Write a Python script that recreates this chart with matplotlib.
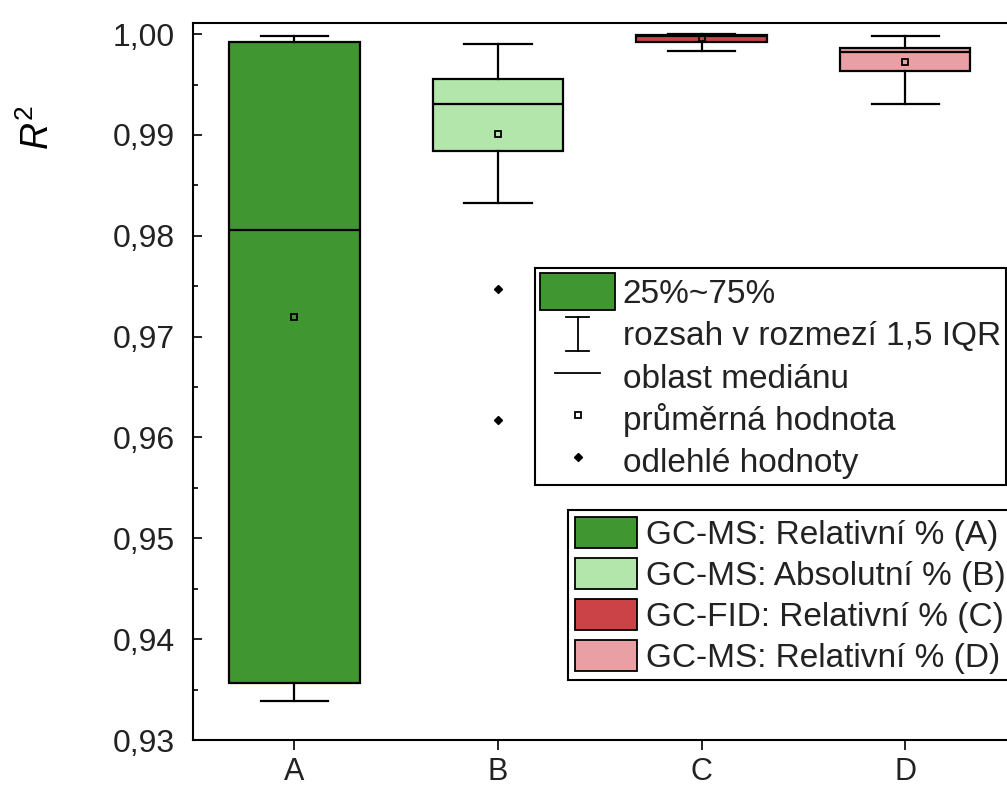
import matplotlib
matplotlib.use("Agg")
import matplotlib.pyplot as plt
from matplotlib.lines import Line2D
from matplotlib.patches import Patch
from matplotlib.legend_handler import HandlerBase, HandlerLine2D
from matplotlib.ticker import MultipleLocator, FuncFormatter

plt.rcParams['font.family'] = ['Liberation Sans', 'DejaVu Sans']
plt.rcParams['mathtext.fontset'] = 'custom'
plt.rcParams['mathtext.it'] = 'Liberation Sans:italic'
plt.rcParams['mathtext.rm'] = 'Liberation Sans'

# R^2 box statistics per method
categories = ['A', 'B', 'C', 'D']
series_labels = ['GC-MS: Relativní % (A)', 'GC-MS: Absolutní % (B)',
                 'GC-FID: Relativní % (C)', 'GC-MS: Relativní % (D)']
whislo = [0.9339, 0.9833, 0.9983, 0.9931]
q1 = [0.9357, 0.9884, 0.9992, 0.9963]
median = [0.9806, 0.9931, 0.9998, 0.9982]
q3 = [0.9992, 0.9955, 0.9999, 0.9986]
whishi = [0.9998, 0.9990, 1.0000, 0.9998]
mean = [0.9719, 0.9901, 0.9996, 0.9972]
outliers = [[], [0.9747, 0.9617], [], []]
colors = ['#409630', '#b3e6aa', '#cc4347', '#e8a0a5']


class WhiskerHandler(HandlerBase):
    # draws the "I" symbol for the whisker range entry
    def create_artists(self, legend, orig_handle, xdescent, ydescent,
                       width, height, fontsize, trans):
        xc = -xdescent + width / 2
        cap = width * 0.155
        y0 = -ydescent + height * 0.05
        y1 = -ydescent + height * 0.95
        lines = [Line2D([xc, xc], [y0, y1]),
                 Line2D([xc - cap, xc + cap], [y0, y0]),
                 Line2D([xc - cap, xc + cap], [y1, y1])]
        for ln in lines:
            ln.set_color('black')
            ln.set_linewidth(1.3)
            ln.set_transform(trans)
        return lines


fig = plt.figure(figsize=(10.07, 7.87), dpi=100)
ax = fig.add_axes([192.7 / 1007, 47 / 787, (1009 - 192.7) / 1007, (740 - 23) / 787])

stats = []
for i in range(len(categories)):
    stats.append(dict(whislo=whislo[i], q1=q1[i], med=median[i], q3=q3[i],
                      whishi=whishi[i], mean=mean[i], fliers=outliers[i]))

lw = 1.6
bp = ax.bxp(stats, positions=[1, 2, 3, 4], widths=0.64, capwidths=0.33,
            showmeans=True, patch_artist=True,
            boxprops=dict(edgecolor='black', linewidth=lw),
            whiskerprops=dict(color='black', linewidth=lw),
            capprops=dict(color='black', linewidth=lw),
            medianprops=dict(color='black', linewidth=lw),
            meanprops=dict(marker='s', markerfacecolor='none', markeredgecolor='black',
                           markersize=5, markeredgewidth=1.3),
            flierprops=dict(marker='D', markerfacecolor='black', markeredgecolor='black',
                            markersize=4))
for box, c in zip(bp['boxes'], colors):
    box.set_facecolor(c)

ax.set_xlim(0.5, 4.51)
ax.set_ylim(0.93, 1.0011)
ax.set_xticks([1, 2, 3, 4], categories)
ax.yaxis.set_major_locator(MultipleLocator(0.01))
ax.yaxis.set_minor_locator(MultipleLocator(0.005))
ax.yaxis.set_major_formatter(FuncFormatter(lambda v, p: f"{v:.2f}".replace('.', ',')))
ax.tick_params(axis='y', which='major', direction='in', length=6.5, width=1.2,
               labelsize=23, pad=13)
ax.tick_params(axis='y', which='minor', direction='in', length=3.5, width=1.2)
ax.tick_params(axis='x', which='major', direction='out', length=7, width=1.2,
               labelsize=22, pad=5)
ax.tick_params(axis='x', which='minor', bottom=False)
for sp in ax.spines.values():
    sp.set_linewidth(1.5)
ax.tick_params(labelcolor='#222222')

fig.text(38 / 1007, 1 - 127 / 787, r'$R^2$', rotation=90, ha='center', va='center',
         fontsize=27)

# legend describing the box elements
whisker_handle = object()
elem_handles = [
    Patch(facecolor=colors[0], edgecolor='black', linewidth=1.3),
    whisker_handle,
    Line2D([], [], color='black', linewidth=1.3),
    Line2D([], [], linestyle='none', marker='s', markerfacecolor='none',
           markeredgecolor='black', markersize=5, markeredgewidth=1.3),
    Line2D([], [], linestyle='none', marker='D', markerfacecolor='black',
           markeredgecolor='black', markersize=4),
]
elem_labels = ['25%~75%', 'rozsah v rozmezí 1,5 IQR', 'oblast mediánu',
               'průměrná hodnota', 'odlehlé hodnoty']
leg1 = fig.legend(elem_handles, elem_labels, loc='upper left',
                  bbox_to_anchor=(535 / 1007, 1 - 268.3 / 787),
                  bbox_transform=fig.transFigure, borderaxespad=0,
                  fontsize=24, handlelength=2.25, handleheight=1.33,
                  handletextpad=0.23, borderpad=0.15, labelspacing=0.16,
                  fancybox=False, framealpha=1, edgecolor='black',
                  handler_map={whisker_handle: WhiskerHandler(),
                               elem_handles[2]: HandlerLine2D(numpoints=2, marker_pad=0.45)})
leg1.get_frame().set_linewidth(1.5)
for t in leg1.get_texts():
    t.set_color('#222222')

# legend for the four methods
series_handles = [Patch(facecolor=c, edgecolor='black', linewidth=1.3) for c in colors]
leg2 = fig.legend(series_handles, series_labels, loc='upper left',
                  bbox_to_anchor=(568.3 / 1007, 1 - 510 / 787),
                  bbox_transform=fig.transFigure, borderaxespad=0,
                  fontsize=24, handlelength=1.85, handleheight=1.07,
                  handletextpad=0.28, borderpad=0.2, labelspacing=0.21,
                  fancybox=False, framealpha=1, edgecolor='black')
leg2.get_frame().set_linewidth(1.5)
for t in leg2.get_texts():
    t.set_color('#222222')

fig.savefig('out.png', dpi=100)
